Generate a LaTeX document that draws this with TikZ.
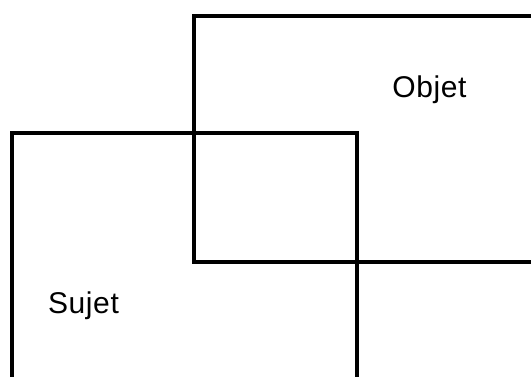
\documentclass[tikz,border=0pt]{standalone}
\usepackage{fontspec}
\setmainfont{Liberation Sans}[LetterSpace=2]
\begin{document}
\begin{tikzpicture}[x=1pt,y=1pt,
  box/.style={line width=3.5pt, line cap=rect},
  lbl/.style={font=\fontsize{30}{34}\selectfont, anchor=base, inner sep=0pt}]
\useasboundingbox (0,0) rectangle (531,376);
\coordinate (otl) at (194,360);
\coordinate (otr) at (531,360);
\coordinate (obl) at (194,114);
\coordinate (obr) at (531,114);
\coordinate (stl) at (12,243);
\coordinate (str) at (357,243);
\coordinate (sbl) at (12,0);
\coordinate (sbr) at (357,0);
\draw[box] (otr) -- (otl) -- (obl) -- (obr);
\draw[box] (sbl) -- (stl) -- (str) -- (sbr);
\node[lbl] (objet) at (429.5,279) {Objet};
\node[lbl] (sujet) at (83.5,63) {Sujet};
\end{tikzpicture}
\end{document}
